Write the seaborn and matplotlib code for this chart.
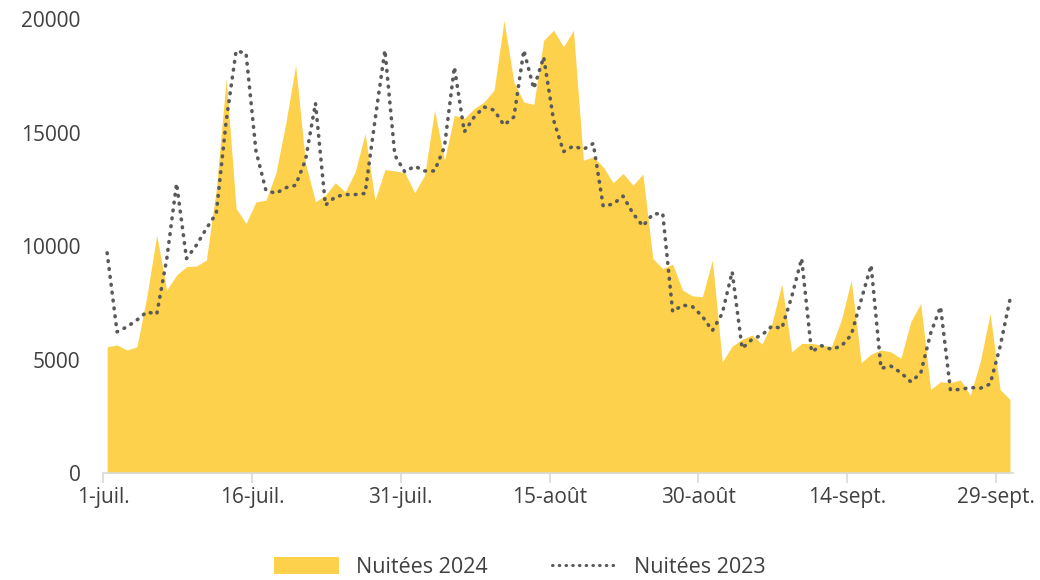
import numpy as np
import pandas as pd
import matplotlib
matplotlib.use("Agg")
import matplotlib.pyplot as plt
import seaborn as sns
from matplotlib.patches import Patch
from matplotlib.lines import Line2D

# Nuitées par jour, du 1er juillet au 30 septembre
nuitees_2024 = [
    5560, 5640, 5420, 5560, 7770, 10480, 8060, 8720, 9090, 9120,
    9380, 12500, 17380, 11660, 11000, 11950, 12020, 13200, 15400, 17970,
    13640, 11950, 12240, 12790, 12390, 13270, 14960, 12020, 13370, 13310,
    13240, 12350, 13120, 15990, 13780, 15770, 15620, 16060, 16350, 16870,
    19950, 17230, 16350, 16240, 19070, 19510, 18780, 19510, 13780, 13930,
    13490, 12790, 13200, 12680, 13170, 9450, 9010, 9200, 8060, 7800,
    7770, 9380, 4900, 5590, 5890, 6080, 5680, 6590, 8320, 5340,
    5710, 5710, 5640, 5560, 6740, 8500, 4860, 5240, 5420, 5340,
    5050, 6660, 7470, 3680, 4020, 3980, 4100, 3430, 4900, 7030,
    3680, 3240,
]
nuitees_2023 = [
    9700, 6220, 6440, 6740, 7100, 7000, 9400, 12760, 9450, 10040,
    10770, 11440, 15500, 18600, 18500, 14200, 12460, 12320, 12570, 12680,
    13800, 16300, 11800, 12170, 12270, 12270, 12320, 15550, 18630, 14000,
    13270, 13520, 13310, 13310, 14370, 17890, 15030, 15690, 16130, 15990,
    15330, 15690, 18630, 16940, 18330, 15550, 14160, 14410, 14260, 14520,
    11760, 11850, 12200, 11440, 10880, 11410, 11440, 7110, 7400, 7330,
    6900, 6270, 7030, 8870, 5490, 5890, 6080, 6470, 6370, 7770,
    9450, 5340, 5610, 5450, 5590, 6080, 7620, 9160, 4610, 4710,
    4420, 4020, 4390, 6150, 7330, 3660, 3680, 3770, 3730, 3920,
    5560, 7650,
]
tick_labels = ["1-juil.", "16-juil.", "31-juil.", "15-août", "30-août", "14-sept.", "29-sept."]

jours = np.arange(len(nuitees_2024))
df = pd.DataFrame({"jour": jours, "n2024": nuitees_2024, "n2023": nuitees_2023})

JAUNE = "#FED14C"
GRIS_LIGNE = "#5a5a5a"
TEXTE = "#404040"
POINTILLE = (0, (0.2, 2.0))

sns.set_theme(style="white")
plt.rcParams["font.family"] = ["Open Sans", "DejaVu Sans"]

fig = plt.figure(figsize=(10.4, 5.8), dpi=100)
ax = fig.add_axes([0.099, 0.1845, 0.875, 0.7825])

# aire 2024
ax.fill_between(df["jour"], df["n2024"], 0, color=JAUNE, linewidth=0)
# ligne pointillée 2023
sns.lineplot(data=df, x="jour", y="n2023", ax=ax, color=GRIS_LIGNE,
             linewidth=2.6, linestyle=POINTILLE, dash_capstyle="round")

ax.set_xlim(-0.42, 91.3)
ax.set_ylim(0, 20000)
ax.set_yticks([0, 5000, 10000, 15000, 20000])
ax.set_xticks(np.arange(0, 92, 15) - 0.4)
ax.set_xticklabels(tick_labels)
ax.set_xlabel("")
ax.set_ylabel("")

for s in ["top", "right", "left"]:
    ax.spines[s].set_visible(False)
ax.spines["bottom"].set_color("#d9d9d9")
ax.spines["bottom"].set_linewidth(1.2)
ax.tick_params(axis="x", colors="#d9d9d9", length=7, width=1.2, labelcolor=TEXTE,
               labelsize=15, pad=3, bottom=True)
ax.tick_params(axis="y", length=0, labelcolor=TEXTE, labelsize=15, pad=16)
ax.grid(False)

handles = [
    Patch(facecolor=JAUNE, edgecolor="none"),
    Line2D([0], [0], color=GRIS_LIGNE, linewidth=2.2, linestyle=POINTILLE,
           dash_capstyle="round"),
]
fig.legend(handles, ["Nuitées 2024", "Nuitées 2023"], loc="lower center",
           bbox_to_anchor=(0.5, -0.03), ncol=2, frameon=False, fontsize=15.5,
           labelcolor=TEXTE, handlelength=3.0, handleheight=0.8, columnspacing=3.0,
           handletextpad=0.8)

fig.savefig("out.png", dpi=100)
